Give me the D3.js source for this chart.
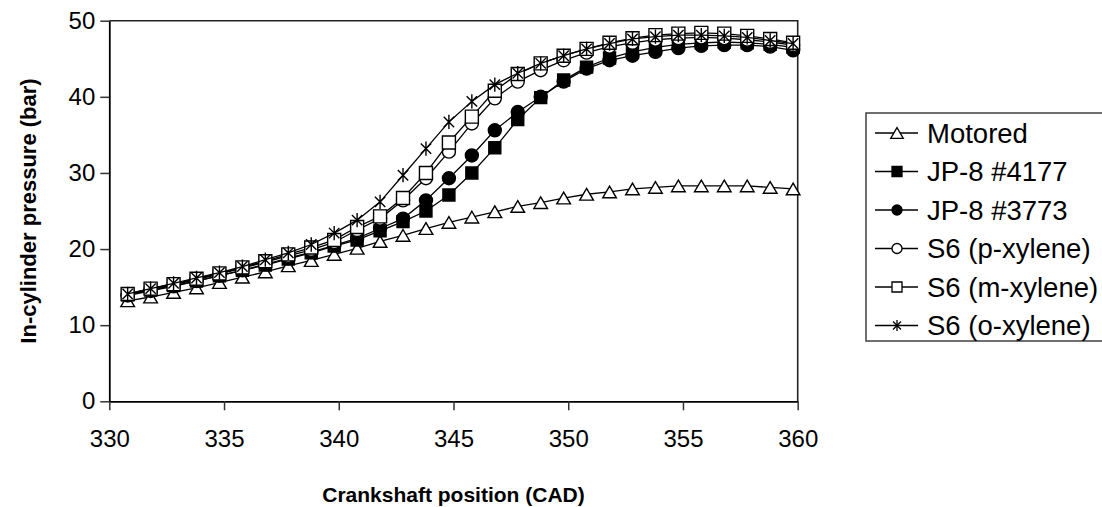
<!DOCTYPE html>
<html>
<head>
<meta charset="utf-8">
<script src="https://cdn.jsdelivr.net/npm/d3@7"></script>
<style>
  body { margin: 0; background: #fff; }
  svg { display: block; }
  text { font-family: "Liberation Sans", Arial, sans-serif; fill: #000; }
</style>
</head>
<body>
<svg id="chart" width="1102" height="507"></svg>
<script>
// Crank angle (CAD) of each sample
const cad = [330.8, 331.8, 332.8, 333.8, 334.8, 335.8, 336.8, 337.8, 338.8, 339.8,
             340.8, 341.8, 342.8, 343.8, 344.8, 345.8, 346.8, 347.8, 348.8, 349.8,
             350.8, 351.8, 352.8, 353.8, 354.8, 355.8, 356.8, 357.8, 358.8, 359.8];

// In-cylinder pressure (bar) per fuel
const motored = [13.2, 13.7, 14.3, 14.9, 15.6, 16.3, 17.0, 17.8, 18.5, 19.3,
                 20.1, 21.0, 21.8, 22.7, 23.5, 24.2, 24.9, 25.6, 26.1, 26.7,
                 27.2, 27.5, 27.9, 28.1, 28.3, 28.3, 28.3, 28.3, 28.1, 27.9];
const jp8_4177 = [14.0, 14.6, 15.2, 15.8, 16.5, 17.2, 17.9, 18.7, 19.5, 20.4,
                  21.2, 22.4, 23.6, 25.0, 27.1, 30.0, 33.3, 37.0, 39.9, 42.2,
                  43.9, 45.1, 45.9, 46.5, 46.9, 47.1, 47.2, 47.1, 46.9, 46.5];
const jp8_3773 = [13.9, 14.5, 15.1, 15.8, 16.5, 17.2, 18.0, 18.8, 19.6, 20.5,
                  21.4, 22.7, 24.0, 26.4, 29.3, 32.3, 35.6, 38.0, 40.0, 42.0,
                  43.7, 44.8, 45.4, 45.9, 46.4, 46.7, 46.8, 46.8, 46.6, 46.1];
const s6_pxylene = [14.0, 14.7, 15.3, 16.0, 16.7, 17.5, 18.3, 19.1, 19.9, 20.9,
                    22.5, 24.0, 26.4, 29.3, 32.8, 36.5, 39.8, 42.0, 43.5, 44.8,
                    45.8, 46.6, 47.1, 47.5, 47.7, 47.8, 47.7, 47.5, 47.2, 46.8];
const s6_mxylene = [14.1, 14.8, 15.4, 16.1, 16.8, 17.6, 18.4, 19.3, 20.2, 21.2,
                    22.9, 24.3, 26.7, 30.0, 34.0, 37.4, 40.8, 43.0, 44.4, 45.4,
                    46.3, 47.1, 47.7, 48.1, 48.3, 48.4, 48.3, 48.0, 47.6, 47.1];
const s6_oxylene = [14.1, 14.8, 15.5, 16.2, 16.9, 17.7, 18.6, 19.5, 20.6, 22.1,
                    23.8, 26.2, 29.7, 33.2, 36.7, 39.4, 41.6, 43.1, 44.4, 45.4,
                    46.3, 47.0, 47.6, 47.9, 48.1, 48.1, 48.0, 47.8, 47.4, 47.0];

const seriesNames = ["Motored", "JP-8 #4177", "JP-8 #3773", "S6 (p-xylene)", "S6 (m-xylene)", "S6 (o-xylene)"];
const seriesValues = [motored, jp8_4177, jp8_3773, s6_pxylene, s6_mxylene, s6_oxylene];
const markerKinds = ["triangle", "filledSquare", "filledCircle", "openCircle", "openSquare", "star"];

const xTicks = [330, 335, 340, 345, 350, 355, 360];
const yTicks = [0, 10, 20, 30, 40, 50];
const xTitle = "Crankshaft position (CAD)";
const yTitle = "In-cylinder pressure (bar)";

const svg = d3.select("#chart");
const plotLeft = 109.3, plotRight = 797.7, plotTop = 20.7, plotBottom = 401.3;

const x = d3.scaleLinear().domain([330, 360]).range([plotLeft, plotRight]);
const y = d3.scaleLinear().domain([0, 50]).range([plotBottom, plotTop]);

// marker path generators, centred on (0,0); s = nominal size
function markerPath(kind, s) {
  const h = s / 2;
  switch (kind) {
    case "triangle": {
      const w = s * 1.05, th = s * 0.9;
      return `M0,${-th / 2}L${w / 2},${th / 2}L${-w / 2},${th / 2}Z`;
    }
    case "filledSquare":
    case "openSquare":
      return `M${-h},${-h}H${h}V${h}H${-h}Z`;
    case "filledCircle":
    case "openCircle":
      return `M${h},0A${h},${h} 0 1,1 ${-h},0A${h},${h} 0 1,1 ${h},0Z`;
    case "star": {
      const r = h * 1.1, d = h * 0.8;
      return `M0,${-r}V${r}M${-d},${-d}L${d},${d}M${-d},${d}L${d},${-d}`;
    }
  }
}
function markerFill(kind) {
  return (kind === "filledSquare" || kind === "filledCircle") ? "#000" : (kind === "star" ? "none" : "#fff");
}

// plot frame (top and right edges)
svg.append("path")
  .attr("d", `M${plotLeft},${plotTop}H${plotRight}V${plotBottom}`)
  .attr("fill", "none").attr("stroke", "#222").attr("stroke-width", 1.6);

// axes
const xAxis = svg.append("g")
  .attr("transform", `translate(0,${plotBottom})`)
  .call(d3.axisBottom(x).tickValues(xTicks).tickSize(9).tickSizeOuter(0).tickPadding(20).tickFormat(d3.format("d")));
const yAxis = svg.append("g")
  .attr("transform", `translate(${plotLeft},0)`)
  .call(d3.axisLeft(y).tickValues(yTicks).tickSize(9).tickSizeOuter(0).tickPadding(5).tickFormat(d3.format("d")));
[xAxis, yAxis].forEach(g => {
  g.select(".domain").attr("stroke", "#000").attr("stroke-width", 1.8);
  g.selectAll(".tick line").attr("stroke", "#333").attr("stroke-width", 1.5);
  g.selectAll(".tick text").attr("font-size", 24).attr("font-family", "Liberation Sans, Arial, sans-serif").attr("fill", "#000");
});

// axis titles
svg.append("text")
  .attr("x", (plotLeft + plotRight) / 2).attr("y", 502)
  .attr("text-anchor", "middle").attr("font-size", 21).attr("font-weight", "bold")
  .text(xTitle);
svg.append("text")
  .attr("transform", `translate(36,${(plotTop + plotBottom) / 2}) rotate(-90)`)
  .attr("text-anchor", "middle").attr("font-size", 22).attr("font-weight", "bold")
  .text(yTitle);

// series
const line = d3.line().x((d, i) => x(cad[i])).y(d => y(d));
const plot = svg.append("g");
seriesValues.forEach((vals, si) => {
  const kind = markerKinds[si];
  const g = plot.append("g");
  g.append("path").datum(vals)
    .attr("d", line).attr("fill", "none").attr("stroke", "#000").attr("stroke-width", 1.3);
  g.selectAll("path.mk").data(vals).join("path")
    .attr("class", "mk")
    .attr("transform", (d, i) => `translate(${x(cad[i])},${y(d)})`)
    .attr("d", markerPath(kind, kind === "filledSquare" ? 12 : 13))
    .attr("fill", markerFill(kind))
    .attr("stroke", "#000").attr("stroke-width", 1.4);
});

// legend
const legX = 866, legTop = 113, legBottom = 341, rowStep = 38.5, firstRow = 133;
svg.append("rect")
  .attr("x", legX).attr("y", legTop).attr("width", 300).attr("height", legBottom - legTop)
  .attr("fill", "#fff").attr("stroke", "#333").attr("stroke-width", 1.4);
const leg = svg.append("g").selectAll("g").data(seriesNames).join("g")
  .attr("transform", (d, i) => `translate(0,${firstRow + i * rowStep})`);
leg.append("line")
  .attr("x1", 875).attr("x2", 918).attr("y1", 0).attr("y2", 0)
  .attr("stroke", "#000").attr("stroke-width", 1.3);
leg.append("path")
  .attr("transform", "translate(897,0)")
  .attr("d", (d, i) => markerPath(markerKinds[i], markerKinds[i] === "triangle" ? 12 : 10))
  .attr("fill", (d, i) => markerFill(markerKinds[i]))
  .attr("stroke", "#000").attr("stroke-width", 1.3);
leg.append("text")
  .attr("x", 927).attr("y", 0).attr("dy", "0.35em")
  .attr("font-size", 27.5)
  .text(d => d);
</script>
</body>
</html>
